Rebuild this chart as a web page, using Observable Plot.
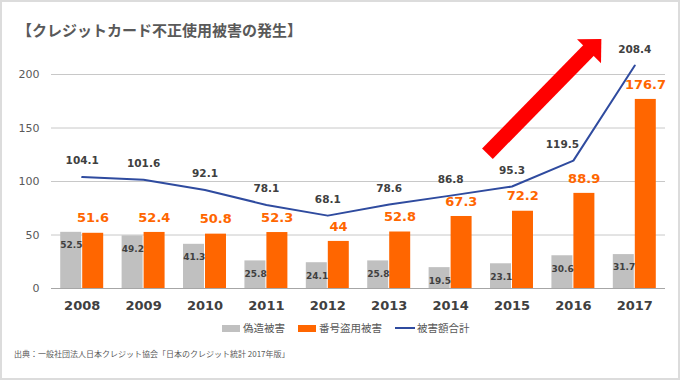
<!DOCTYPE html>
<html><head><meta charset="utf-8">
<script src="https://cdn.jsdelivr.net/npm/d3@7"></script>
<script src="https://cdn.jsdelivr.net/npm/@observablehq/plot@0.6"></script>
<style>
body{margin:0;background:#fff;}
#wrap{position:relative;width:680px;height:380px;overflow:hidden;background:#fff;font-family:"Noto Sans CJK JP",sans-serif;}
#frame{position:absolute;left:0;top:0;right:0;bottom:0;border:2px solid #dcdcdc;pointer-events:none;}
#title{position:absolute;left:17px;top:19px;font-size:15px;font-weight:bold;color:#595959;white-space:nowrap;line-height:21px;}
#chart{position:absolute;left:0;top:0;}
#legend{position:absolute;top:320px;left:222px;display:flex;align-items:center;font-size:10.5px;color:#595959;white-space:nowrap;line-height:16px;}
#legend .sw{display:inline-block;width:18px;height:7px;margin-right:3px;}
#legend .ln{display:inline-block;width:20px;height:2.5px;margin-right:2px;}
#legend .it{display:flex;align-items:center;margin-right:13px;}
#caption{position:absolute;left:14px;top:348px;font-size:8px;color:#595959;white-space:nowrap;line-height:12px;}
</style>
</head><body>
<div id="wrap">
  <div id="title">【クレジットカード不正使用被害の発生】</div>
  <div id="chart"></div>
  <div id="legend"></div>
  <div id="caption"></div>
  <div id="frame"></div>
</div>
<script>
const years = [2008, 2009, 2010, 2011, 2012, 2013, 2014, 2015, 2016, 2017];
const forged = [52.5, 49.2, 41.3, 25.8, 24.1, 25.8, 19.5, 23.1, 30.6, 31.7];
const numberTheft = [51.6, 52.4, 50.8, 52.3, 44, 52.8, 67.3, 72.2, 88.9, 176.7];
const total = [104.1, 101.6, 92.1, 78.1, 68.1, 78.6, 86.8, 95.3, 119.5, 208.4];
const yTicks = [0, 50, 100, 150, 200];
const seriesNames = ["偽造被害", "番号盗用被害", "被害額合計"];
const seriesColors = ["#c0c0c0", "#ff6600", "#2f4b9f"];
const titleText = "【クレジットカード不正使用被害の発生】";
const captionText = "出典：一般社団法人日本クレジット協会「日本のクレジット統計 2017年版」";
// trend arrow annotation (data space): tail and head base
const arrowTail = {year: 2014.6, value: 126};
const arrowHead = {year: 2016.26, value: 222};

const rows = years.map((year, i) => ({year, forged: forged[i], theft: numberTheft[i], total: total[i]}));

const headSymbol = {
  draw(context, size) {
    const L = Math.sqrt(size / Math.PI);
    const h = L / Math.SQRT2, b = L * Math.SQRT2;
    context.moveTo(0, -h);
    context.lineTo(b / 2, 0.5);
    context.lineTo(-b / 2, 0.5);
    context.closePath();
  }
};

const halfBar = 0.35;
const chart = Plot.plot({
  width: 680,
  height: 320,
  marginLeft: 51,
  marginRight: 15,
  marginTop: 74,
  marginBottom: 32,
  style: {fontFamily: "'DejaVu Sans', Verdana, sans-serif", background: "transparent", overflow: "visible"},
  x: {domain: [2007.5, 2017.5], axis: null},
  y: {domain: [0, 200], axis: null},
  marks: [
    Plot.ruleY(yTicks.filter(t => t > 0), {stroke: "#c8c8c8", strokeWidth: 1}),
    Plot.rect(rows, {x1: d => d.year - halfBar, x2: d => d.year, y1: 0, y2: "forged", fill: seriesColors[0], insetRight: 0.5}),
    Plot.rect(rows, {x1: d => d.year, x2: d => d.year + halfBar, y1: 0, y2: "theft", fill: seriesColors[1], insetLeft: 0.5}),
    Plot.ruleY([0], {stroke: "#a6a6a6", strokeWidth: 1}),
    Plot.line(rows, {x: "year", y: "total", stroke: seriesColors[2], strokeWidth: 2}),
    Plot.link([{a: arrowTail, b: arrowHead}], {x1: d => d.a.year, y1: d => d.a.value, x2: d => d.b.year + 0.03, y2: d => d.b.value + 3, stroke: "#ff0000", strokeWidth: 15}),
    Plot.dot([arrowHead], {x: "year", y: "value", symbol: headSymbol, r: 24, fill: "#ff0000", stroke: "none", rotate: 45}),
    Plot.text(rows, {x: d => d.year - halfBar / 2, y: "forged", text: d => d.forged.toFixed(1), dy: 13, fontSize: 9, fontWeight: "bold", fill: "#404040"}),
    Plot.text(rows, {x: d => d.year + halfBar / 2, y: "theft", text: d => String(d.theft), dy: -15, fontSize: 13, fontWeight: "bold", fill: "#ff6600"}),
    Plot.text(rows.filter(d => d.year !== 2016), {x: "year", y: "total", text: d => d.total.toFixed(1), dy: -16, fontSize: 10.5, fontWeight: "bold", fill: "#404040"}),
    Plot.text(rows.filter(d => d.year === 2016), {x: "year", y: "total", text: d => d.total.toFixed(1), dy: -16, dx: -11, fontSize: 10.5, fontWeight: "bold", fill: "#404040"}),
    Plot.axisX(years, {tickSize: 0, tickPadding: 12, tickFormat: d => String(d), fontSize: 13, fontWeight: "bold", fill: "#404040", label: null}),
    Plot.axisY(yTicks, {tickSize: 0, tickPadding: 12, fontSize: 11, fill: "#595959", label: null})
  ]
});
document.getElementById("chart").appendChild(chart);

document.getElementById("title").textContent = titleText;
document.getElementById("caption").textContent = captionText;
const lg = document.getElementById("legend");
seriesNames.forEach((name, i) => {
  const it = document.createElement("span");
  it.className = "it";
  const sw = document.createElement("span");
  sw.className = i === 2 ? "ln" : "sw";
  sw.style.background = seriesColors[i];
  it.appendChild(sw);
  it.appendChild(document.createTextNode(name));
  lg.appendChild(it);
});
</script>
</body></html>
